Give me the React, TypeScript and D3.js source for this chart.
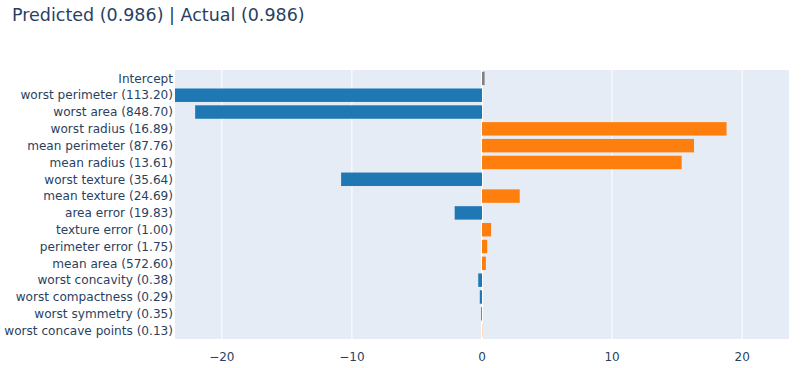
import React, { useEffect, useRef } from "react";
import * as d3 from "d3";

const features: string[] = [
  "Intercept",
  "worst perimeter (113.20)",
  "worst area (848.70)",
  "worst radius (16.89)",
  "mean perimeter (87.76)",
  "mean radius (13.61)",
  "worst texture (35.64)",
  "mean texture (24.69)",
  "area error (19.83)",
  "texture error (1.00)",
  "perimeter error (1.75)",
  "mean area (572.60)",
  "worst concavity (0.38)",
  "worst compactness (0.29)",
  "worst symmetry (0.35)",
  "worst concave points (0.13)",
];

const contributions: number[] = [
  0.2, -23.8, -22.05, 18.8, 16.3, 15.35, -10.83, 2.9, -2.1, 0.7, 0.4, 0.3,
  -0.29, -0.17, -0.06, 0.02,
];

const xTicks: number[] = [-20, -10, 0, 10, 20];

const title = "Predicted (0.986) | Actual (0.986)";

const App: React.FC = () => {
  const svgRef = useRef<SVGSVGElement>(null);

  useEffect(() => {
    const width = 802;
    const height = 368;
    const margin = { top: 70, right: 13, bottom: 29, left: 175 };
    const font = "'DejaVu Sans', Verdana, sans-serif";
    const textColor = "#2a3f5f";

    const svg = d3.select(svgRef.current);
    svg.selectAll("*").remove();

    const x = d3
      .scaleLinear()
      .domain([-23.6, 23.6])
      .range([margin.left, width - margin.right]);

    const y = d3
      .scaleBand()
      .domain(features)
      .range([margin.top, height - margin.bottom])
      .paddingInner(0.2)
      .paddingOuter(0.1);

    // plot background
    svg
      .append("rect")
      .attr("x", margin.left)
      .attr("y", margin.top)
      .attr("width", width - margin.left - margin.right)
      .attr("height", height - margin.top - margin.bottom)
      .attr("fill", "#e5ecf6");

    // grid
    svg
      .append("g")
      .selectAll("line")
      .data(xTicks.filter((t) => t !== 0))
      .enter()
      .append("line")
      .attr("x1", (d) => x(d))
      .attr("x2", (d) => x(d))
      .attr("y1", margin.top)
      .attr("y2", height - margin.bottom)
      .attr("stroke", "#fff")
      .attr("stroke-width", 1);

    // zero line
    svg
      .append("line")
      .attr("x1", x(0))
      .attr("x2", x(0))
      .attr("y1", margin.top)
      .attr("y2", height - margin.bottom)
      .attr("stroke", "#fff")
      .attr("stroke-width", 2);

    svg
      .append("clipPath")
      .attr("id", "plot-clip")
      .append("rect")
      .attr("x", margin.left)
      .attr("y", margin.top)
      .attr("width", width - margin.left - margin.right)
      .attr("height", height - margin.top - margin.bottom);

    const color = (i: number, v: number) =>
      i === 0 ? "#808080" : v < 0 ? "#1f77b4" : "#ff7f0e";

    svg
      .append("g")
      .attr("clip-path", "url(#plot-clip)")
      .selectAll("rect")
      .data(contributions)
      .enter()
      .append("rect")
      .attr("x", (d) => x(Math.min(0, d)))
      .attr("y", (d, i) => y(features[i])!)
      .attr("width", (d) => Math.abs(x(d) - x(0)))
      .attr("height", y.bandwidth())
      .attr("fill", (d, i) => color(i, d));

    // y labels
    svg
      .append("g")
      .selectAll("text")
      .data(features)
      .enter()
      .append("text")
      .attr("x", margin.left - 2)
      .attr("y", (d) => y(d)! + y.bandwidth() / 2)
      .attr("dy", "0.35em")
      .attr("text-anchor", "end")
      .attr("font-family", font)
      .attr("font-size", 12.1)
      .attr("fill", textColor)
      .text((d) => d);

    // x labels
    svg
      .append("g")
      .selectAll("text")
      .data(xTicks)
      .enter()
      .append("text")
      .attr("x", (d) => x(d))
      .attr("y", height - margin.bottom + 13)
      .attr("dy", "0.71em")
      .attr("text-anchor", "middle")
      .attr("font-family", font)
      .attr("font-size", 12)
      .attr("fill", textColor)
      .text((d) => d3.format("")(d));

    svg
      .append("text")
      .attr("x", 12)
      .attr("y", 21)
      .attr("font-family", font)
      .attr("font-size", 17.5)
      .attr("fill", textColor)
      .text(title);
  }, []);

  return (
    <div style={{ position: "absolute", left: 0, top: 0 }}>
      <svg ref={svgRef} width={802} height={368} style={{ display: "block", background: "#fff" }}></svg>
    </div>
  );
};

export default App;
